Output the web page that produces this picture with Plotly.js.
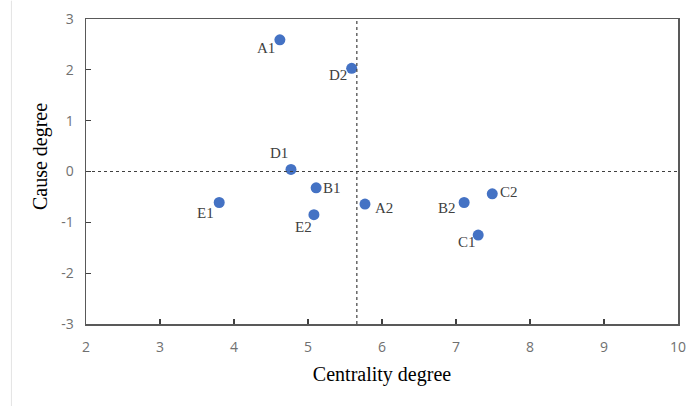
<!DOCTYPE html>
<html>
<head>
<meta charset="utf-8">
<script src="https://cdn.plot.ly/plotly-3.0.1.min.js"></script>
<style>html,body{margin:0;padding:0;background:#fff;}#chart{width:699px;height:406px;}</style>
</head>
<body>
<div id="chart"></div>
<script>
const labels = ["A1","D2","D1","B1","E1","E2","A2","B2","C2","C1"];
const centrality = [4.62, 5.59, 4.77, 5.11, 3.80, 5.08, 5.77, 7.11, 7.49, 7.30];
const cause = [2.59, 2.03, 0.04, -0.32, -0.61, -0.85, -0.64, -0.61, -0.44, -1.25];
// label offsets in pixels [dx, dy(up)]
const labelOffsets = [[-14,-8],[-14,-7],[-12,16],[16,0],[-14,-10],[-10,-12],[19,-4],[-17,-5],[17,2],[-11,-7]];
const xTicks = [2,3,4,5,6,7,8,9,10];
const yTicks = [-3,-2,-1,0,1,2,3];
const yTickText = ["-3","-2","-1","0","1","2","3"];
const meanCentrality = 5.66;
const meanCause = 0;

const trace = {
  x: centrality, y: cause,
  mode: "markers", type: "scatter",
  marker: {color: "#4472C4", size: 11},
  cliponaxis: false,
  hoverinfo: "none"
};

const axisCommon = {
  showgrid: false, zeroline: false, showline: true, mirror: true,
  linecolor: "#595959", linewidth: 1.5,
  ticks: "inside", ticklen: 5, tickwidth: 1.2, tickcolor: "#404040",
  tickfont: {family: "Open Sans", size: 14, color: "#707070"}
};

const pointLabels = labels.map((t, i) => ({
  text: t, x: centrality[i], y: cause[i], xref: "x", yref: "y",
  xanchor: "center", yanchor: "middle", showarrow: false,
  xshift: labelOffsets[i][0], yshift: labelOffsets[i][1],
  font: {family: "Liberation Serif", size: 15, color: "#404040"}
}));

const layout = {
  width: 699, height: 406,
  margin: {l: 86, r: 21, t: 19, b: 82},
  paper_bgcolor: "#fff", plot_bgcolor: "#fff",
  showlegend: false,
  xaxis: Object.assign({}, axisCommon, {
    range: [xTicks[0], xTicks[xTicks.length-1]], tickvals: xTicks,
    ticklabelstandoff: 10,
    title: {text: "Centrality degree", font: {family: "Liberation Serif", size: 20, color: "#000"}, standoff: 11}
  }),
  yaxis: Object.assign({}, axisCommon, {
    range: [yTicks[0], yTicks[yTicks.length-1]], tickvals: yTicks, ticktext: yTickText,
    ticklabelstandoff: 8
  }),
  annotations: [{
    text: "Cause degree", xref: "paper", yref: "paper", x: -0.078, y: 0.55,
    xanchor: "center", yanchor: "middle", textangle: -90, showarrow: false,
    font: {family: "Liberation Serif", size: 20, color: "#000"}
  }].concat(pointLabels),
  shapes: [
    {type: "line", xref: "x", yref: "y", x0: xTicks[0], x1: xTicks[xTicks.length-1], y0: meanCause, y1: meanCause,
     line: {color: "#404040", width: 1.2, dash: "dot"}},
    {type: "line", xref: "x", yref: "y", x0: meanCentrality, x1: meanCentrality, y0: yTicks[0], y1: yTicks[yTicks.length-1],
     line: {color: "#404040", width: 1.2, dash: "dot"}},
    {type: "line", xref: "paper", yref: "paper", x0: -0.126, x1: -0.126, y0: -0.27, y1: 1.06,
     line: {color: "#e3e3e3", width: 1}}
  ]
};

Plotly.newPlot("chart", [trace], layout, {displayModeBar: false, staticPlot: true});
</script>
</body>
</html>
